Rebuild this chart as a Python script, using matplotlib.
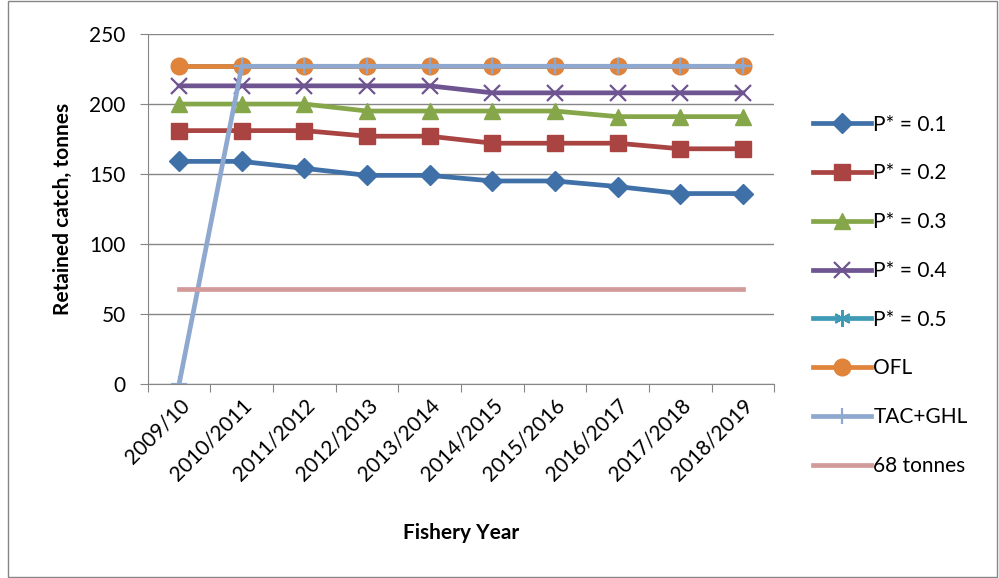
import matplotlib.pyplot as plt
from matplotlib.patches import Rectangle

plt.rcParams['font.family'] = ['Lato', 'DejaVu Sans']

years = ["2009/10", "2010/2011", "2011/2012", "2012/2013", "2013/2014",
         "2014/2015", "2015/2016", "2016/2017", "2017/2018", "2018/2019"]

p01 = [159, 159, 154, 149, 149, 145, 145, 141, 136, 136]
p02 = [181, 181, 181, 177, 177, 172, 172, 172, 168, 168]
p03 = [200, 200, 200, 195, 195, 195, 195, 191, 191, 191]
p04 = [213, 213, 213, 213, 213, 208, 208, 208, 208, 208]
p05 = [227, 227, 227, 227, 227, 227, 227, 227, 227, 227]
ofl = [227, 227, 227, 227, 227, 227, 227, 227, 227, 227]
tac_ghl = [0, 227, 227, 227, 227, 227, 227, 227, 227, 227]
line68 = [68, 68, 68, 68, 68, 68, 68, 68, 68, 68]

fig = plt.figure(figsize=(9.99, 5.78), dpi=100)
ax = fig.add_axes([0.148, 0.336, 0.627, 0.605])

x = range(len(years))
lw = 3.4
ax.plot(x, p01, color="#4070A8", lw=lw, marker="D", ms=10, label="P* = 0.1")
ax.plot(x, p02, color="#A94442", lw=lw, marker="s", ms=11, label="P* = 0.2")
ax.plot(x, p03, color="#86A64A", lw=lw, marker="^", ms=12, label="P* = 0.3")
ax.plot(x, p04, color="#6E5490", lw=lw, marker="x", ms=12, mew=1.6, label="P* = 0.4")
ax.plot(x, p05, color="#3E9AB5", lw=lw, marker=(6, 2, 0), ms=12, mew=1.6, label="P* = 0.5")
ax.plot(x, ofl, color="#E0843C", lw=lw, marker="o", ms=12, label="OFL")
ax.plot(x, tac_ghl, color="#8EA8CF", lw=lw, marker="+", ms=12, mew=1.6, label="TAC+GHL")
ax.plot(x, line68, color="#D39A9A", lw=lw, label="68 tonnes")

ax.set_xlim(-0.5, len(years) - 0.5)
ax.set_ylim(0, 250)
ax.set_yticks(range(0, 251, 50))
ax.set_xticks([i - 0.5 for i in range(len(years) + 1)], minor=False)
ax.set_xticklabels([])
ax.set_xticks(list(x), minor=True)
ax.set_xticklabels(years, minor=True, rotation=45, ha="right", rotation_mode="anchor", fontsize=15)
ax.tick_params(axis="x", which="minor", length=0, pad=8)
ax.tick_params(axis="x", which="major", length=6, color="#868686", direction="out")
ax.tick_params(axis="y", length=6, color="#868686", labelsize=15, pad=10)

ax.grid(axis="y", color="#868686", lw=1)
ax.set_axisbelow(True)
for s in ["top", "right"]:
    ax.spines[s].set_visible(False)
for s in ["left", "bottom"]:
    ax.spines[s].set_color("#868686")

ax.set_ylabel("Retained catch, tonnes", fontsize=15, fontweight="bold", labelpad=12)
ax.set_xlabel("Fishery Year", fontsize=15, fontweight="bold", labelpad=28)

ax.legend(loc="upper left", bbox_to_anchor=(0.795, 0.834), bbox_transform=fig.transFigure,
          frameon=False, fontsize=15, handlelength=2.8, handletextpad=0.1,
          labelspacing=1.38)

fig.add_artist(Rectangle((0.008, 0.002), 0.99, 0.996, transform=fig.transFigure,
                         fill=False, edgecolor="#868686", lw=1))

fig.savefig("out.png", dpi=100)
